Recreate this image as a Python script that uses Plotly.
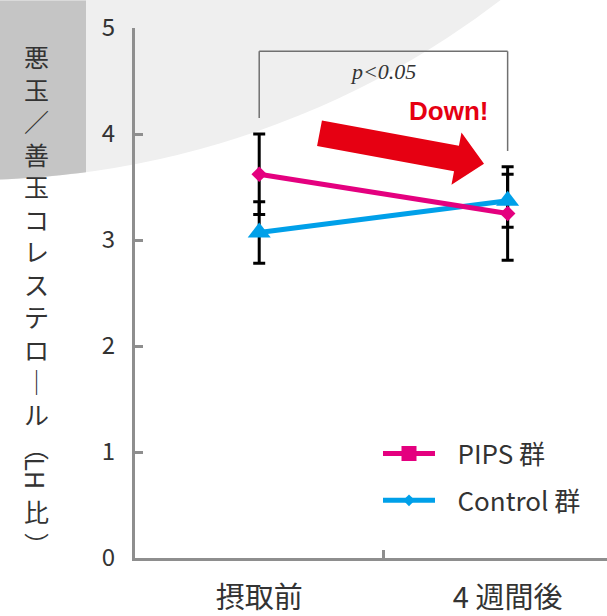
import numpy as np
import plotly.graph_objects as go

# ---- data -------------------------------------------------------------
categories = ["摂取前", "4 週間後"]
pips_mean = [3.62, 3.25]
pips_sd = [0.38, 0.44]
control_mean = [3.07, 3.37]
control_sd = [0.29, 0.25]
y_ticks = [0, 1, 2, 3, 4, 5]
series_names = ["PIPS 群", "Control 群"]
y_title_chars = ["悪", "玉", "／", "善", "玉", "コ", "レ", "ス", "テ", "ロ",
                 "｜", "ル", "︵", "　", "比", "︶"]
y_title_latin = "LH"
p_label = "p<0.05"
down_label = "Down!"

# ---- geometry / style -------------------------------------------------
W, H = 607, 616
ML, MR, MT, MB = 135, 0, 28, 49
X_RANGE = [-0.5, 1.4]
Y_RANGE = [0, 5]

PINK = "#E4007F"
BLUE = "#00A0E9"
RED = "#E60012"
AXIS = "#8E8E8E"
TEXT = "#333333"
JP = "Noto Sans CJK JP"

plot_w = W - ML - MR
plot_h = H - MT - MB


def paper(px, py):
    """Pixel position in the page -> paper coordinates."""
    return (px - ML) / plot_w, (H - MB - py) / plot_h


# ---- background decoration -------------------------------------------
shapes = []
# large pale disc in the upper-left corner
cx, cy, R = -31.3, -681.8, 864.4
x0, y1 = paper(cx - R, cy - R)
x1, y0 = paper(cx + R, cy + R)
shapes.append(dict(type="circle", xref="paper", yref="paper",
                   x0=x0, y0=y0, x1=x1, y1=y1,
                   fillcolor="#EFEFEF", line=dict(width=0), layer="below"))
# darker band on the far left, cut by the same disc edge
band_r = 86
xs = np.linspace(band_r, 0, 12)
ys = cy + np.sqrt(R ** 2 - (xs - cx) ** 2)
pts = [(0, 0), (band_r, 0)] + list(zip(xs, ys))
path = "M " + " L ".join("{:.5f},{:.5f}".format(*paper(px, py)) for px, py in pts) + " Z"
shapes.append(dict(type="path", xref="paper", yref="paper", path=path,
                   fillcolor="#C5C5C5", line=dict(width=0), layer="below"))

# ---- significance bracket --------------------------------------------
br_color = "#707070"
for xa, ya, xb, yb in [(0, 4.15, 0, 4.78), (0, 4.78, 1, 4.78), (1, 4.78, 1, 3.84)]:
    shapes.append(dict(type="line", xref="x", yref="y", x0=xa, y0=ya, x1=xb, y1=yb,
                       line=dict(color=br_color, width=1.5)))

# ---- red "down" arrow -------------------------------------------------
tail = np.array([319.5, 135.0])
tip = np.array([484.0, 166.0])
d = (tip - tail) / np.linalg.norm(tip - tail)
n = np.array([-d[1], d[0]])
shaft_half, head_half, head_len = 13.2, 27.0, 28.0
base = tip - d * head_len
arrow_pts = [tail - n * shaft_half, base - n * shaft_half, base - n * head_half, tip,
             base + n * head_half, base + n * shaft_half, tail + n * shaft_half]
arrow_path = "M " + " L ".join("{:.5f},{:.5f}".format(*paper(*p)) for p in arrow_pts) + " Z"
shapes.append(dict(type="path", xref="paper", yref="paper", path=arrow_path,
                   fillcolor=RED, line=dict(width=0)))

# ---- traces -----------------------------------------------------------
fig = go.Figure()
for mean, sd in [(pips_mean, pips_sd), (control_mean, control_sd)]:
    fig.add_trace(go.Scatter(
        x=categories, y=mean, mode="markers",
        marker=dict(color="rgba(0,0,0,0)", size=1),
        error_y=dict(type="data", array=sd, color="black", thickness=3, width=6),
        showlegend=False, hoverinfo="skip"))

fig.add_trace(go.Scatter(
    x=categories, y=control_mean, mode="lines+markers",
    line=dict(color=BLUE, width=5),
    marker=dict(symbol="triangle-up", size=20, color=BLUE),
    showlegend=False))
fig.add_trace(go.Scatter(
    x=categories, y=pips_mean, mode="lines+markers",
    line=dict(color=PINK, width=5),
    marker=dict(symbol="diamond", size=12, color=PINK),
    showlegend=False))

# legend keys (leading no-break spaces widen the gap between key and text)
pad = "\u00a0\u00a0\u00a0"
fig.add_trace(go.Scatter(
    x=[None], y=[None], mode="lines+markers", name=pad + series_names[0],
    line=dict(color=PINK, width=5), marker=dict(symbol="square", size=15, color=PINK),
    legendgroup="a", legendrank=1))
fig.add_trace(go.Scatter(
    x=[None], y=[None], mode="lines+markers", name=pad + series_names[1],
    line=dict(color=BLUE, width=5), marker=dict(symbol="diamond", size=9, color=BLUE),
    legendgroup="b", legendrank=2))

# ---- annotations ------------------------------------------------------
annotations = []
tx, ty = paper(36, 304.5)
annotations.append(dict(xref="paper", yref="paper", x=tx, y=ty,
                        text="<br>".join(y_title_chars), showarrow=False,
                        font=dict(family=JP, size=25, color=TEXT),
                        xanchor="center", yanchor="middle"))
lx, ly = paper(36, 481)
annotations.append(dict(xref="paper", yref="paper", x=lx, y=ly, text=y_title_latin,
                        textangle=90, showarrow=False,
                        font=dict(family=JP, size=25, color=TEXT),
                        xanchor="center", yanchor="middle"))
annotations.append(dict(xref="x", yref="y", x=0.5, y=4.59, text="<i>" + p_label + "</i>",
                        showarrow=False,
                        font=dict(family="Liberation Serif", size=22, color=TEXT)))
annotations.append(dict(xref="x", yref="y", x=0.763, y=4.22, text="<b>" + down_label + "</b>",
                        showarrow=False,
                        font=dict(family="Liberation Sans Narrow, Liberation Sans", size=26,
                                  color=RED)))

# ---- layout -----------------------------------------------------------
fig.update_layout(
    width=W, height=H,
    margin=dict(l=ML, r=MR, t=MT, b=MB, pad=0),
    paper_bgcolor="white", plot_bgcolor="rgba(0,0,0,0)",
    shapes=shapes, annotations=annotations,
    showlegend=True,
    legend=dict(x=paper(378, 0)[0], y=paper(0, 437)[1], xanchor="left", yanchor="top",
                bgcolor="rgba(0,0,0,0)", font=dict(family=JP, size=26, color=TEXT),
                itemwidth=52, tracegroupgap=10),
    xaxis=dict(type="category", range=X_RANGE, showgrid=False, zeroline=False,
               showline=True, linecolor=AXIS, linewidth=3,
               ticks="inside", tickson="boundaries", ticklen=8, tickwidth=3, tickcolor=AXIS,
               tickfont=dict(family=JP, size=29, color=TEXT), ticklabelstandoff=12),
    yaxis=dict(range=Y_RANGE, tickvals=y_ticks, showgrid=False, zeroline=False,
               showline=True, linecolor=AXIS, linewidth=3,
               ticks="inside", ticklen=8, tickwidth=3, tickcolor=AXIS,
               tickfont=dict(family=JP, size=24, color=TEXT), ticklabelstandoff=12),
)

fig.write_html("out.html")
